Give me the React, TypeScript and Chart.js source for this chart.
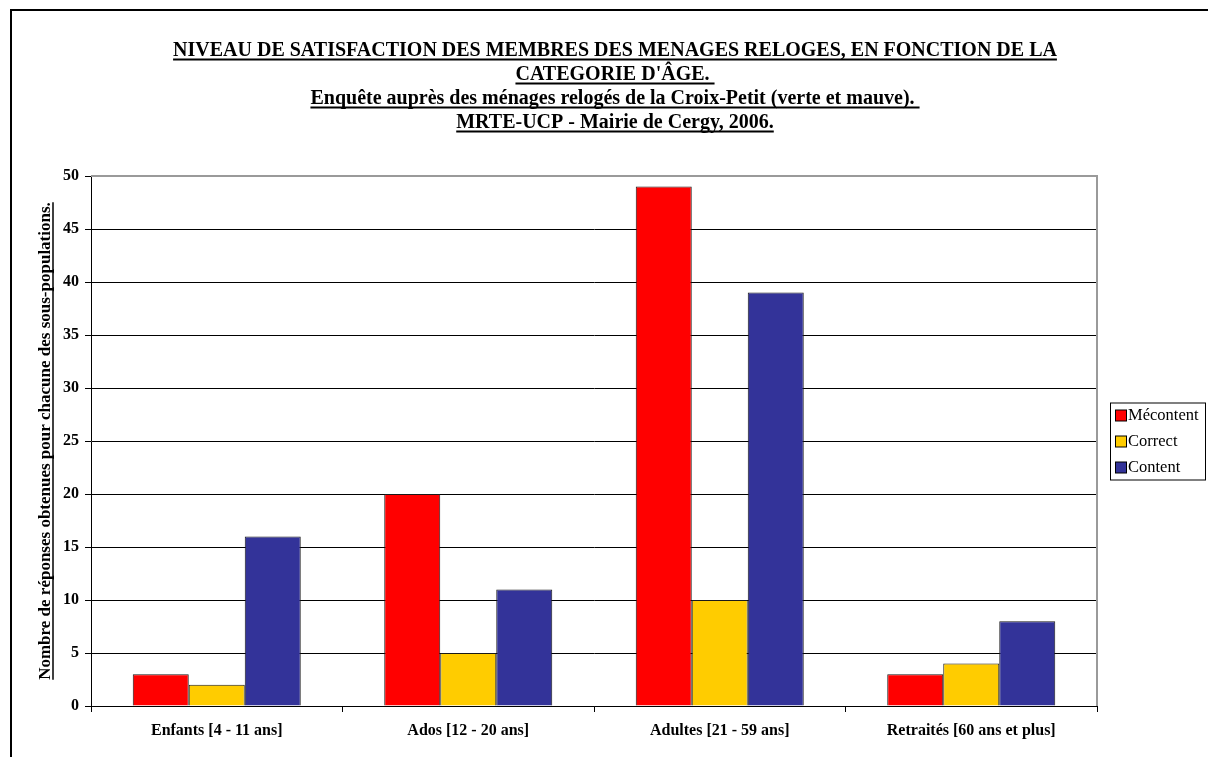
import React, { useEffect, useRef } from "react";
import { Chart, registerables } from "chart.js";

Chart.register(...registerables);

const categories = [
  "Enfants [4 - 11 ans]",
  "Ados [12 - 20 ans]",
  "Adultes [21 - 59 ans]",
  "Retraités [60 ans et plus]",
];
const mecontent = [3, 20, 49, 3];
const correct = [2, 5, 10, 4];
const content = [16, 11, 39, 8];
const seriesNames = ["Mécontent", "Correct", "Content"];
const seriesColors = ["#FF0000", "#FFCC00", "#333399"];
const titleLines = [
  "NIVEAU DE SATISFACTION DES MEMBRES DES MENAGES RELOGES, EN FONCTION DE LA",
  "CATEGORIE D'ÂGE. ",
  "Enquête auprès des ménages relogés de la Croix-Petit (verte et mauve). ",
  "MRTE-UCP - Mairie de Cergy, 2006.",
];
const yTitle = "Nombre de réponses obtenues pour chacune des sous-populations.";

const SERIF = "'Liberation Serif', 'Times New Roman', serif";

const decorPlugin = {
  id: "decor",
  beforeDraw(chart: any) {
    const ctx = chart.ctx;
    ctx.save();
    ctx.fillStyle = "#fff";
    ctx.fillRect(0, 0, chart.width, chart.height);
    ctx.restore();
  },
  afterDraw(chart: any) {
    const ctx = chart.ctx;
    const ca = chart.chartArea;
    ctx.save();
    // outer frame
    ctx.strokeStyle = "#000";
    ctx.lineWidth = 2;
    ctx.strokeRect(11, 10, chart.width + 20, chart.height + 20);

    // plot area gray border top/right
    ctx.strokeStyle = "#9a9a9a";
    ctx.lineWidth = 2;
    ctx.beginPath();
    ctx.moveTo(ca.left, ca.top);
    ctx.lineTo(ca.right, ca.top);
    ctx.lineTo(ca.right, ca.bottom);
    ctx.stroke();

    // title
    ctx.fillStyle = "#000";
    ctx.strokeStyle = "#000";
    ctx.textAlign = "center";
    ctx.textBaseline = "alphabetic";
    ctx.font = `bold 20px ${SERIF}`;
    const cx = 615;
    titleLines.forEach((line, i) => {
      const y = 56 + i * 24;
      ctx.fillText(line, cx, y);
      const w = ctx.measureText(line).width;
      ctx.lineWidth = 2;
      ctx.beginPath();
      ctx.moveTo(cx - w / 2, y + 3.5);
      ctx.lineTo(cx + w / 2, y + 3.5);
      ctx.stroke();
    });

    // y axis title
    ctx.save();
    ctx.translate(45, (ca.top + ca.bottom) / 2);
    ctx.rotate(-Math.PI / 2);
    ctx.font = `bold 17px ${SERIF}`;
    ctx.textAlign = "center";
    ctx.textBaseline = "alphabetic";
    ctx.fillText(yTitle, 0, 5);
    const tw = ctx.measureText(yTitle).width;
    ctx.lineWidth = 1.5;
    ctx.beginPath();
    ctx.moveTo(-tw / 2, 8);
    ctx.lineTo(tw / 2, 8);
    ctx.stroke();
    ctx.restore();

    // legend box
    const lx = 1110;
    const lw = 95;
    const lh = 77;
    const ly = (ca.top + ca.bottom) / 2 - lh / 2;
    ctx.fillStyle = "#fff";
    ctx.fillRect(lx, ly, lw, lh);
    ctx.strokeStyle = "#000";
    ctx.lineWidth = 1;
    ctx.strokeRect(lx + 0.5, ly + 0.5, lw, lh);
    ctx.font = `16.5px ${SERIF}`;
    ctx.textAlign = "left";
    ctx.textBaseline = "middle";
    chart.data.datasets.forEach((ds: any, i: number) => {
      const iy = ly + 13 + i * 26;
      ctx.fillStyle = ds.backgroundColor;
      ctx.fillRect(lx + 5.5, iy - 5.5, 11, 11);
      ctx.strokeStyle = "#000";
      ctx.strokeRect(lx + 5.5, iy - 5.5, 11, 11);
      ctx.fillStyle = "#000";
      ctx.fillText(ds.label, lx + 18, iy);
    });
    ctx.restore();
  },
};

export default function App() {
  const ref = useRef<HTMLCanvasElement | null>(null);
  useEffect(() => {
    if (!ref.current) return;
    const values = [mecontent, correct, content];
    const chart = new Chart(ref.current, {
      type: "bar",
      data: {
        labels: categories,
        datasets: seriesNames.map((name, i) => ({
          label: name,
          data: values[i],
          backgroundColor: seriesColors[i],
          borderColor: "#1a1a1a",
          borderWidth: 1,
          barPercentage: 1,
          categoryPercentage: 0.668,
        })),
      },
      options: {
        animation: false,
        responsive: false,
        maintainAspectRatio: false,
        layout: { padding: { top: 176, right: 111, left: 0, bottom: 0 } },
        plugins: {
          legend: { display: false },
          title: { display: false },
          tooltip: { enabled: false },
        },
        scales: {
          x: {
            afterFit: (s: any) => {
              s.height = 51;
            },
            grid: {
              offset: true,
              drawOnChartArea: false,
              drawTicks: true,
              tickLength: 6,
              color: "#000",
            },
            border: { color: "#000", width: 1 },
            ticks: {
              color: "#000",
              padding: 9,
              font: { family: SERIF, size: 16, weight: "bold" },
              maxRotation: 0,
              autoSkip: false,
            },
          },
          y: {
            min: 0,
            max: 50,
            afterFit: (s: any) => {
              s.width = 91;
            },
            grid: {
              color: "#000",
              lineWidth: 1,
              tickLength: 6,
              drawTicks: true,
            },
            border: { color: "#000", width: 1 },
            ticks: {
              stepSize: 5,
              color: "#000",
              padding: 6,
              font: { family: SERIF, size: 16, weight: "bold" },
            },
          },
        },
      },
      plugins: [decorPlugin],
    });
    return () => chart.destroy();
  }, []);
  return (
    <div style={{ position: "absolute", left: 0, top: 0, width: 1208, height: 757 }}>
      <canvas ref={ref} width={1208} height={757} style={{ width: 1208, height: 757 }} />
    </div>
  );
}
